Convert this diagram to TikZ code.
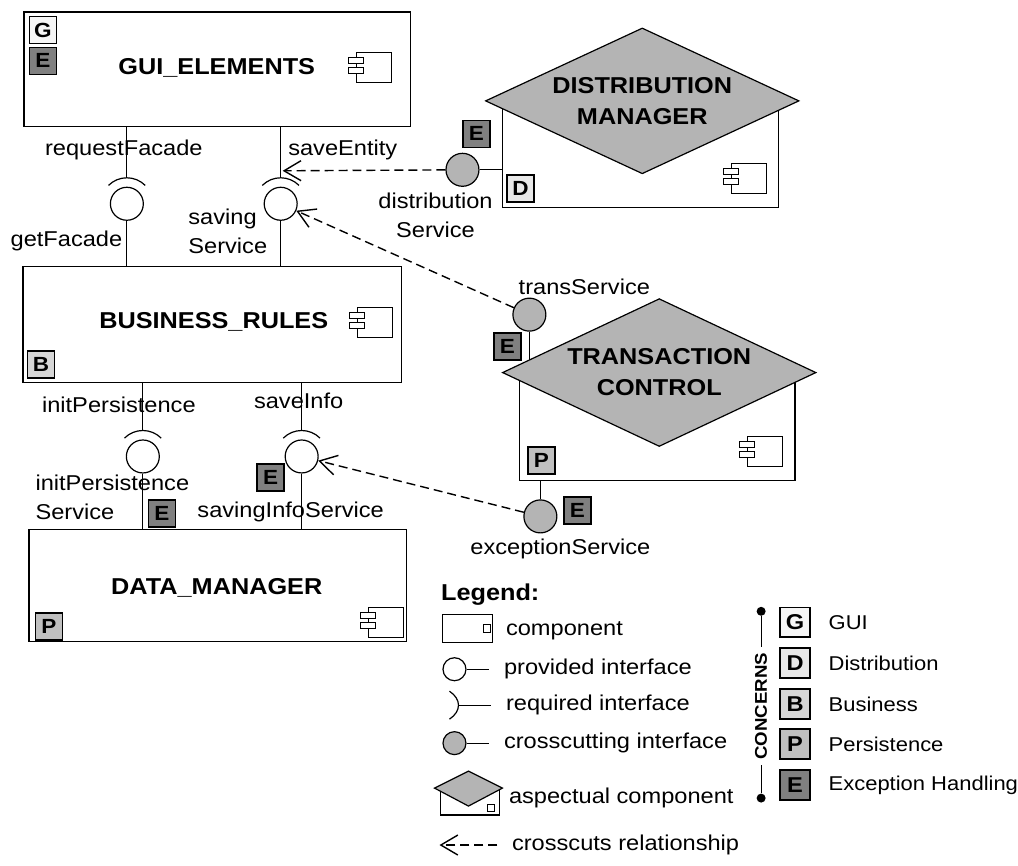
\documentclass[tikz,border=0pt]{standalone}
\usepackage{fontspec}
\setmainfont{Liberation Sans}[FakeStretch=1.1]
\usetikzlibrary{shapes,shapes.geometric,arrows.meta}
\definecolor{aspgray}{RGB}{180,180,180}
\definecolor{gcol}{RGB}{246,246,246}
\definecolor{dcol}{RGB}{232,232,232}
\definecolor{bcol}{RGB}{214,214,214}
\definecolor{pcol}{RGB}{192,192,192}
\definecolor{ecol}{RGB}{128,128,128}
\newcommand{\compsym}[1]{%
  \draw[line width=1pt,fill=white] (#1) +(-17,-15) rectangle +(18,15);
  \draw[line width=1pt,fill=white] (#1) +(-25,-10) rectangle +(-10,-4);
  \draw[line width=1pt,fill=white] (#1) +(-25,0) rectangle +(-10,6);}

\begin{document}
\begin{tikzpicture}[x=1pt, y=-1pt, line width=1.2pt,
      every node/.append style={font=\fontsize{21.5}{29}\selectfont},
      compbox/.style={draw, fill=white, inner sep=0},
      comptitle/.style={font=\fontsize{23}{31}\selectfont\bfseries, align=center},
      aspectbox/.style={draw, shape=diamond, aspect=2.18, inner sep=0, fill=aspgray,
        minimum width=314pt, minimum height=146pt,
        font=\fontsize{23}{31}\selectfont\bfseries, align=center},
      badge/.style={draw, line width=1.6pt, minimum size=27pt, inner sep=0,
        font=\fontsize{20.5}{20}\selectfont\bfseries},
      provball/.style={draw, circle, fill=white, minimum size=33pt, inner sep=0},
      xcutball/.style={draw, circle, fill=aspgray, minimum size=33pt, inner sep=0},
      xcutarrow/.style={-{Straight Barb[length=17pt,width=20pt,line width=1.4pt]},
        line width=1.4pt, dash pattern=on 9pt off 5pt}]
    \tikzstyle{iflabel} = [inner sep=0]
    \fill[white] (0,0) rectangle (1018,866);

    \node (gui) [compbox, minimum width=387pt, minimum height=115pt] at (217.5,69.5) {};
    \node (business) [compbox, minimum width=379pt, minimum height=116pt] at (212.5,325) {};
    \node (data_mgr) [compbox, minimum width=378pt, minimum height=112pt] at (218,586) {};
    \node (gui_title) [comptitle] at (217,68) {GUI\_ELEMENTS};
    \node (business_title) [comptitle] at (214,322) {BUSINESS\_RULES};
    \node (data_title) [comptitle] at (217,589) {DATA\_MANAGER};
    \compsym{374,68}
    \compsym{375,323}
    \compsym{386,623}
    \node (gui_g) [badge, fill=gcol] at (43,30) {G};
    \node (gui_e) [badge, fill=ecol] at (43,61) {E};
    \node (business_b) [badge, fill=bcol] at (41,365) {B};
    \node (data_p) [badge, fill=pcol] at (49,627) {P};

    \node (facade_if) [provball] at (127,204) {};
    \node (saving_if) [provball] at (281,204) {};
    \node (initp_if) [provball] at (143,457) {};
    \node (saveinfo_if) [provball] at (302,457) {};
    \foreach \n/\req/\prov in {facade_if/gui/business, saving_if/gui/business,
        initp_if/business/data_mgr, saveinfo_if/business/data_mgr} {
      \draw (\n.center) ++(225:26) arc[start angle=225, end angle=315, radius=26];
      \draw ([yshift=26pt]\n.center) -- (\n |- \req.south);
      \draw (\n) -- (\n |- \prov.north);
    }
    \node (facade_req_lbl) [iflabel] at (124,150) {requestFacade};
    \node (saving_req_lbl) [iflabel, anchor=west] at (288,150) {saveEntity};
    \node (facade_prov_lbl) [iflabel, anchor=east] at (123,241) {getFacade};
    \node (saving_prov_lbl) [iflabel, anchor=west, align=left] at (188,232) {saving\\Service};
    \node (initp_req_lbl) [iflabel] at (119,405) {initPersistence};
    \node (saveinfo_req_lbl) [iflabel] at (299,401) {saveInfo};
    \node (initp_prov_lbl) [iflabel, anchor=west, align=left] at (35,498) {initPersistence\\Service};
    \node (saveinfo_prov_lbl) [iflabel] at (291,513) {savingInfoService};
    \node (initp_e) [badge, fill=ecol] at (162,514) {E};
    \node (saveinfo_e) [badge, fill=ecol] at (271,478) {E};

    \node (dist_box) [compbox, minimum width=276pt, minimum height=108pt] at (641,154) {};
    \compsym{749,179}
    \node (dist_d) [badge, fill=dcol] at (521,189) {D};
    \node (dist_mgr) [aspectbox] at (643,101) {DISTRIBUTION\\MANAGER};
    \node (dist_if) [xcutball] at (463,170) {};
    \draw (dist_if) -- (dist_if -| dist_box.west);
    \node (dist_e) [badge, fill=ecol] at (477,134) {E};
    \node (dist_lbl) [iflabel, align=center] at (436,216) {distribution\\Service};

    \node (trans_box) [compbox, minimum width=276pt, minimum height=108pt] at (658,427) {};
    \compsym{765,452}
    \node (trans_p) [badge, fill=pcol] at (542,461) {P};
    \node (trans_if) [xcutball] at (530,315) {};
    \draw (trans_if) -- (trans_if |- trans_box.north);
    \node (trans_mgr) [aspectbox, minimum height=148pt] at (660,373) {TRANSACTION\\CONTROL};
    \node (trans_e) [badge, fill=ecol] at (508,347) {E};
    \node (trans_lbl) [iflabel] at (585,287) {transService};
    \node (exc_if) [xcutball] at (541,517) {};
    \draw (exc_if) -- (exc_if |- trans_box.south);
    \node (exc_e) [badge, fill=ecol] at (578,511) {E};
    \node (exc_lbl) [iflabel] at (561,550) {exceptionService};

    \coordinate (save_tip) at (283,171);
    \draw [xcutarrow] (dist_if) -- (save_tip);
    \draw [xcutarrow] (trans_if) -- (saving_if);
    \draw [xcutarrow] (exc_if) -- (saveinfo_if);

    \node (legend_title) [iflabel, anchor=west, font=\fontsize{23}{26}\selectfont\bfseries] at (441,595) {Legend:};
    \draw (443,615) rectangle (493,643);
    \draw[line width=1pt] (484,625) rectangle (491,633);
    \node (lg_comp) [iflabel, anchor=west] at (506,632) {component};
    \node (lg_prov_ball) [provball, minimum size=23pt] at (455,670) {};
    \coordinate (lg_prov_end) at (490,670);
    \draw (lg_prov_ball) -- (lg_prov_end);
    \node (lg_prov) [iflabel, anchor=west] at (504,670) {provided interface};
    \draw (450,692) .. controls (462,700) and (462,712) .. (450,720);
    \draw (460,706) -- (492,706);
    \node (lg_req) [iflabel, anchor=west] at (506,706) {required interface};
    \node (lg_xcut_ball) [xcutball, minimum size=23pt] at (455,744) {};
    \coordinate (lg_xcut_end) at (490,744);
    \draw (lg_xcut_ball) -- (lg_xcut_end);
    \node (lg_xcut) [iflabel, anchor=west] at (504,744) {crosscutting interface};
    \draw[fill=white] (441,789) rectangle (500,816);
    \draw[fill=aspgray] (435,789) -- (469,772) -- (503,789) -- (469,807) -- cycle;
    \draw[line width=1pt] (488,805) rectangle (495,812);
    \node (lg_aspect) [iflabel, anchor=west] at (509,799) {aspectual component};
    \coordinate (lg_arrow_a) at (498,846);
    \coordinate (lg_arrow_b) at (440,846);
    \draw [xcutarrow, line width=1.2pt] (lg_arrow_a) -- (lg_arrow_b);
    \node (lg_arrow) [iflabel, anchor=west] at (512,846) {crosscuts relationship};

    \node (top_dot) [circle, fill, inner sep=0, minimum size=9pt] at (762,612) {};
    \node (bot_dot) [circle, fill, inner sep=0, minimum size=9pt] at (762,799) {};
    \node (concerns) [rotate=90, inner sep=5pt, font=\fontsize{17}{18}\selectfont\bfseries] at (762,707) {CONCERNS};
    \draw (top_dot) -- (concerns.east);
    \draw (concerns.west) -- (bot_dot);
    \foreach \c/\col/\y/\name in {G/gcol/623/GUI, D/dcol/664/Distribution, B/bcol/705/Business,
        P/pcol/745/Persistence, E/ecol/786/Exception Handling} {
      \node (key_\c) [badge, fill=\col, minimum size=30pt, font=\fontsize{21.5}{20}\selectfont\bfseries] at (796,\y) {\c};
      \node (key_\c_lbl) [iflabel, anchor=west, font=\fontsize{20}{22}\selectfont] at (829,\y) {\name};
    }
\end{tikzpicture}
\end{document}
